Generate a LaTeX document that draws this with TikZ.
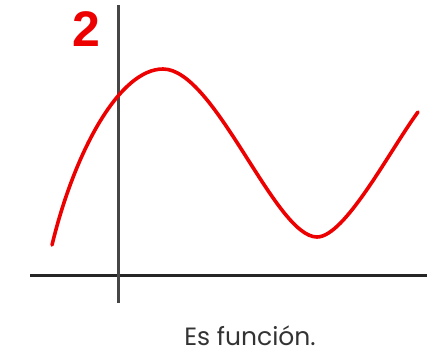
\documentclass[tikz,border=0pt]{standalone}
\usepackage{fontspec}
\setmainfont{Liberation Sans}
\newfontfamily\capfont{Poppins}
\usetikzlibrary{positioning}
\definecolor{curvered}{RGB}{236,0,0}
\definecolor{axisgray}{RGB}{70,70,70}

\begin{document}
\begin{tikzpicture}[x=1pt,y=-1pt,
  axisline/.style={line width=3pt,axisgray},
  graphline/.style={line width=3.6pt,curvered,line cap=round}]
  \useasboundingbox (0,0) rectangle (429,354);
  \coordinate (xl) at (30,275); \coordinate (xr) at (427,275);
  \coordinate (yt) at (118,5); \coordinate (yb) at (118,303);
  \draw[axisline,black!85] (xl)--(xr);
  \draw[axisline] (yt)--(yb);
  \draw[graphline] (52,245) .. controls (75,150) and (120,69) .. (163,69)
    .. controls (215,69) and (275,237) .. (317,237)
    .. controls (345,237) and (390,150) .. (418,112);
  \node[curvered,font=\fontsize{50}{50}\selectfont\bfseries] (num) at (86,29) {2};
  \node[black!80,font=\capfont\fontsize{25}{25}\selectfont] (cap) at (250,336) {Es función.};
\end{tikzpicture}
\end{document}
